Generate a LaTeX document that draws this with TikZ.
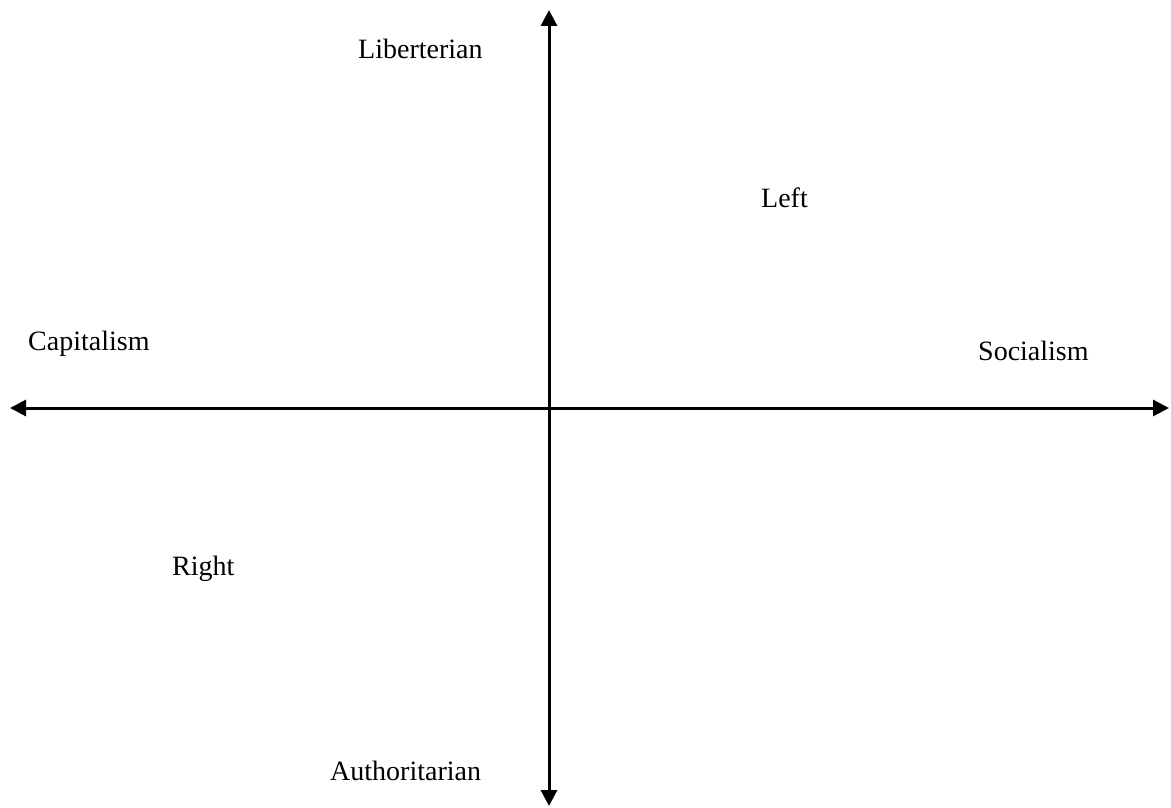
\documentclass[tikz,border=0pt]{standalone}
\usepackage{fontspec}
\setmainfont{Liberation Serif}
\usetikzlibrary{arrows.meta}
\begin{document}
\begin{tikzpicture}[x=1pt,y=-1pt,
  axis/.style={line width=3pt,{Triangle[length=16pt,width=16pt]}-{Triangle[length=16pt,width=16pt]}},
  lab/.style={anchor=base west,inner sep=0pt,font=\fontsize{28}{32}\selectfont}]
\useasboundingbox (0,0) rectangle (1171,808);
\coordinate (top) at (549,10);
\coordinate (bot) at (549,806);
\coordinate (lft) at (10,408);
\coordinate (rgt) at (1169,408);
\draw[axis] (top) -- (bot);
\draw[axis] (lft) -- (rgt);
\node[lab] (lib) at (358,59) {Liberterian};
\node[lab] (left) at (761,207) {Left};
\node[lab] (cap) at (28,350) {Capitalism};
\node[lab] (soc) at (978,360) {Socialism};
\node[lab] (right) at (172,575) {Right};
\node[lab] (auth) at (330,780) {Authoritarian};
\end{tikzpicture}
\end{document}
